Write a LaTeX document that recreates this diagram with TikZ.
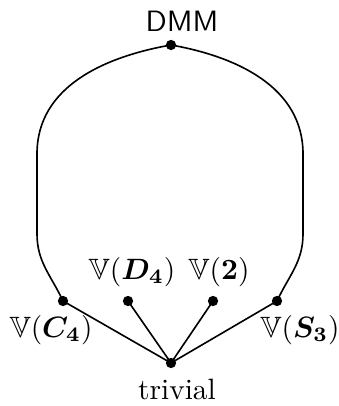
\documentclass[tikz,border=0pt]{standalone}
\usepackage{amsmath,amssymb}
\usetikzlibrary{positioning}

\begin{document}
\begin{tikzpicture}[
  x=0.34pt, y=0.34pt,
  dot/.style={circle, fill=black, inner sep=0pt, minimum size=3.5pt},
  link/.style={line width=0.55pt, black},
  lbl/.style={inner sep=1pt},
]
\useasboundingbox (0,0) rectangle (338,406);

% === Varieties (dots) ===
\node[dot] (dmm)  at (171,361) {};
\node[dot] (c4)   at (63,105)  {};
\node[dot] (d4)   at (128,105) {};
\node[dot] (two)  at (213,105) {};
\node[dot] (s3)   at (277,105) {};
\node[dot] (triv) at (171,43)  {};

% === Labels ===
\node[lbl, font=\sffamily] (dmmlbl) at (182,385) {DMM};
\node[lbl] (trivlbl) at (177,17)  {trivial};
\node[lbl] (c4lbl)   at (51,76)   {$\mathbb{V}(\boldsymbol{C_4})$};
\node[lbl] (s3lbl)   at (300,76)  {$\mathbb{V}(\boldsymbol{S_3})$};
\node[lbl] (d4lbl)   at (132,134) {$\mathbb{V}(\boldsymbol{D_4})$};
\node[lbl] (twolbl)  at (219,134) {$\mathbb{V}(\mathbf{2})$};

% === Outer loop through DMM ===
\coordinate (l1) at (37,172);
\coordinate (l2) at (37,252);
\coordinate (r1) at (303,172);
\coordinate (r2) at (303,252);

\draw[link] (c4.center) to[out=115, in=-90] (l1) -- (l2)
  to[out=90, in=190] (dmm.center) to[out=-10, in=90] (r2) -- (r1)
  to[out=-90, in=65] (s3.center);

% === Covers of trivial ===
\draw[link] (triv.center) -- (c4.center);
\draw[link] (triv.center) -- (d4.center);
\draw[link] (triv.center) -- (two.center);
\draw[link] (triv.center) -- (s3.center);

\end{tikzpicture}
\end{document}
